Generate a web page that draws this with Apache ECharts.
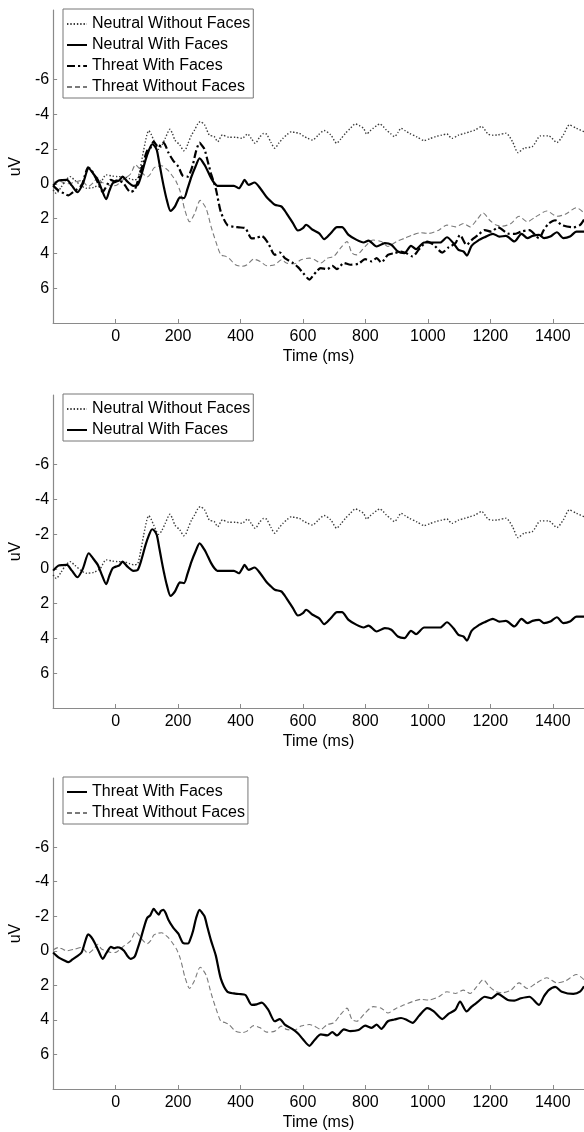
<!DOCTYPE html>
<html>
<head>
<meta charset="utf-8">
<script src="https://cdn.jsdelivr.net/npm/echarts@6/dist/echarts.min.js"></script>
<style>
html,body{margin:0;padding:0;background:#fff;}
#chart{width:584px;height:1132px;}
</style>
</head>
<body>
<div id="chart"></div>
<script>
// ---- Data (time in ms, amplitude in uV) ----
const xTickValues = [0, 200, 400, 600, 800, 1000, 1200, 1400];
const yTickValues = [-6, -4, -2, 0, 2, 4, 6];

const neutralWithoutT = [-200,-190,-175,-160,-146,-130,-110,-93,-70,-50,-30,-10,6,25,45,59,71,80,90,100,106,114,122,130,138,148,159,174,182,190,206,218,225,232,243,253,263,271,285,300,316,327,342,363,384,405,423,435,447,462,474,484,497,510,523,536,550,563,576,589,602,615,631,649,668,689,708,722,736,752,768,781,794,804,815,825,836,846,857,867,880,893,904,914,928,941,965,988,1006,1025,1043,1061,1077,1098,1119,1135,1151,1172,1193,1209,1224,1250,1271,1289,1308,1335,1361,1387,1413,1434,1453,1476,1500];
const neutralWithoutV = [0.35,0.55,0.2,-0.2,-0.42,-0.2,0.1,0.25,0.2,0.0,-0.52,-0.45,-0.42,-0.42,-0.3,-0.23,-0.3,-1.0,-1.95,-2.8,-3.06,-2.85,-2.52,-2.2,-1.99,-2.2,-2.62,-3.14,-2.9,-2.52,-2.24,-1.91,-2.0,-2.33,-2.8,-3.1,-3.45,-3.58,-3.39,-2.81,-2.72,-2.43,-2.81,-2.68,-2.68,-2.62,-2.87,-2.6,-2.33,-2.7,-2.9,-2.85,-2.4,-2.05,-2.35,-2.62,-2.85,-3.0,-2.95,-2.9,-2.75,-2.62,-2.52,-2.81,-3.07,-2.82,-2.34,-2.6,-2.91,-3.2,-3.45,-3.35,-3.2,-2.87,-3.05,-3.2,-3.35,-3.45,-3.3,-3.1,-2.9,-2.72,-2.95,-3.2,-3.05,-2.91,-2.7,-2.49,-2.6,-2.72,-2.8,-2.87,-2.62,-2.8,-2.91,-3.0,-3.1,-3.3,-2.87,-2.8,-2.82,-2.91,-2.43,-1.8,-2.05,-2.15,-2.76,-2.76,-2.38,-2.82,-3.39,-3.2,-3.0];

const neutralWithT = [-200,-183,-170,-156,-140,-122,-105,-86,-72,-57,-45,-30,-20,-9,1,12,22,38,57,71,84,96,106,117,124,132,140,148,156,164,176,190,198,206,219,230,243,256,269,285,296,306,316,326,353,379,395,405,413,426,445,463,484,497,510,531,547,568,584,600,610,631,652,668,689,709,725,746,772,794,810,836,862,883,904,925,946,962,988,1014,1040,1061,1082,1098,1114,1125,1140,1161,1182,1208,1229,1250,1277,1300,1319,1335,1356,1372,1392,1413,1434,1455,1476,1500];
const neutralWithV = [0.1,-0.19,-0.22,-0.23,0.1,0.48,0.0,-0.9,-0.6,-0.23,0.3,0.88,0.4,-0.04,-0.13,-0.2,-0.42,-0.13,0.11,0.06,-0.6,-1.38,-1.9,-2.28,-2.2,-1.95,-1.2,-0.42,0.3,0.92,1.55,1.3,1.0,0.77,0.82,0.3,-0.42,-1.0,-1.47,-1.09,-0.7,-0.33,-0.05,0.11,0.11,0.11,0.25,0.0,-0.23,0.06,-0.08,0.25,0.77,1.0,1.2,1.3,1.68,2.26,2.68,2.54,2.35,2.64,2.84,3.18,2.84,2.49,2.49,2.93,3.22,3.37,3.26,3.6,3.41,3.5,3.89,3.98,3.56,3.75,3.37,3.37,3.37,3.07,3.41,3.79,3.89,4.12,3.56,3.26,3.07,2.87,3.03,2.99,3.31,2.87,3.12,2.99,2.93,3.12,3.03,2.78,3.12,3.03,2.74,2.74];

const threatWithT = [-200,-183,-165,-151,-138,-125,-109,-98,-88,-78,-67,-55,-41,-33,-25,-15,-4,5,12,27,38,48,61,70,80,90,101,111,122,130,138,145,153,160,169,185,201,215,232,240,248,258,269,277,285,295,306,321,337,358,379,395,416,436,452,468,489,510,526,542,568,585,600,621,631,645,657,678,694,709,731,752,778,799,820,836,851,872,893,914,930,951,972,998,1019,1046,1067,1088,1103,1124,1140,1161,1182,1203,1224,1256,1277,1298,1325,1356,1371,1387,1408,1429,1466,1487,1500];
const threatWithV = [0.1,0.38,0.55,0.66,0.5,0.34,0.1,-0.5,-0.95,-0.8,-0.47,0.0,0.47,0.25,0.0,-0.23,-0.15,-0.2,-0.19,0.0,0.3,0.47,0.34,-0.1,-0.66,-1.3,-1.9,-2.05,-2.43,-2.25,-2.09,-2.3,-2.37,-2.2,-1.8,-1.33,-0.99,-0.47,-0.42,-0.7,-1.14,-1.9,-2.37,-2.2,-1.99,-1.3,-0.57,0.28,1.61,2.37,2.47,2.5,2.56,3.13,3.1,3.0,3.42,4.08,3.95,4.27,4.55,4.8,5.12,5.5,5.31,5.0,4.84,4.9,4.71,4.9,4.55,4.65,4.59,4.33,4.46,4.27,4.52,4.08,3.98,3.89,3.98,4.17,3.76,3.32,3.51,3.95,3.64,3.42,2.94,3.51,3.23,2.94,2.66,2.75,2.5,2.85,2.88,2.75,2.66,3.13,2.66,2.28,2.09,2.37,2.5,2.37,2.05];

const threatWithoutT = [-200,-183,-170,-156,-130,-109,-88,-70,-57,-45,-30,-15,1,15,27,48,64,75,90,101,113,122,132,148,160,169,185,195,206,215,222,237,253,271,290,306,321,337,350,363,384,405,421,442,463,484,510,531,547,573,594,621,636,657,678,699,720,741,757,772,799,825,851,872,899,925,951,977,1003,1035,1061,1088,1114,1135,1156,1177,1198,1219,1240,1266,1292,1318,1345,1381,1413,1440,1476,1500];
const threatWithoutV = [-0.05,-0.19,-0.1,0.0,-0.1,-0.19,0.15,-0.1,-0.38,-0.1,0.0,0.1,0.09,-0.1,-0.28,-0.57,-1.1,-0.9,-0.55,-0.4,-0.6,-0.9,-1.0,-1.04,-0.9,-0.76,-0.38,-0.1,0.38,1.0,1.52,2.18,1.71,0.95,1.42,2.47,3.32,4.08,4.15,4.27,4.65,4.74,4.65,4.33,4.46,4.71,4.65,4.36,4.55,4.59,4.36,4.27,4.35,4.55,4.27,4.17,3.7,3.32,3.98,4.08,3.6,3.23,3.32,3.6,3.32,3.13,2.94,2.81,2.85,2.66,2.37,2.47,2.28,2.47,2.09,1.67,2.09,2.37,2.43,2.28,1.86,2.18,1.9,1.56,1.86,1.75,1.37,1.67];

const labelNW = 'Neutral Without Faces';
const labelNF = 'Neutral With Faces';
const labelTF = 'Threat With Faces';
const labelTW = 'Threat Without Faces';

// ---- build ----
function pairs(t, v) { return t.map((x, i) => [x, v[i]]); }
const FONT = '"Liberation Sans", Arial, Helvetica, sans-serif';
const AXIS_GRAY = '#8a8a8a';

const styles = {
  nw: { color: '#3a3a3a', width: 1.4, type: [1.4, 1.9] },
  nf: { color: '#000', width: 2.2, type: 'solid' },
  tfDashDot: { color: '#000', width: 2.2, type: [8, 3, 2.2, 3] },
  tfSolid: { color: '#000', width: 2.2, type: 'solid' },
  tw: { color: '#7a7a7a', width: 1.1, type: [5, 3] }
};

const gridTops = [10, 395, 778];
const grids = gridTops.map(top => ({ left: 44, width: 540, top: top, height: 313 }));

function xAxis(i) {
  return {
    gridIndex: i, type: 'value', min: -200, max: 1500, interval: 200,
    name: 'Time (ms)', nameLocation: 'middle', nameGap: 26,
    nameTextStyle: { color: '#000', fontSize: 16, fontFamily: FONT },
    axisLine: { show: true, onZero: false, lineStyle: { color: AXIS_GRAY, width: 1.2 } },
    axisTick: { show: true, inside: true, length: 4, customValues: xTickValues, lineStyle: { color: AXIS_GRAY } },
    axisLabel: { show: true, customValues: xTickValues, formatter: v => String(v), color: '#000', fontSize: 16, fontFamily: FONT, margin: 6 },
    splitLine: { show: false }
  };
}
function yAxis(i) {
  return {
    gridIndex: i, type: 'value', min: -10, max: 8, interval: 2, inverse: true,
    name: 'uV', nameLocation: 'middle', nameGap: 26, nameRotate: 90,
    nameTextStyle: { color: '#000', fontSize: 16, fontFamily: FONT },
    axisLine: { show: true, onZero: false, lineStyle: { color: AXIS_GRAY, width: 1.2 } },
    axisTick: { show: true, inside: true, length: 4, customValues: yTickValues, lineStyle: { color: AXIS_GRAY } },
    axisLabel: { show: true, customValues: yTickValues, formatter: v => String(v), color: '#000', fontSize: 16, fontFamily: FONT, margin: 4 },
    splitLine: { show: false }
  };
}

function line(name, idx, data, ls, z) {
  return {
    name: name, type: 'line', xAxisIndex: idx, yAxisIndex: idx,
    data: data, symbol: 'none', showSymbol: false, smooth: 0.25,
    lineStyle: ls, itemStyle: { color: ls.color }, z: z, silent: true, animation: false
  };
}

const dNW = pairs(neutralWithoutT, neutralWithoutV);
const dNF = pairs(neutralWithT, neutralWithV);
const dTF = pairs(threatWithT, threatWithV);
const dTW = pairs(threatWithoutT, threatWithoutV);

const series = [
  line('1|' + labelNW, 0, dNW, styles.nw, 2),
  line('1|' + labelNF, 0, dNF, styles.nf, 4),
  line('1|' + labelTF, 0, dTF, styles.tfDashDot, 3),
  line('1|' + labelTW, 0, dTW, styles.tw, 1),
  line('2|' + labelNW, 1, dNW, styles.nw, 2),
  line('2|' + labelNF, 1, dNF, styles.nf, 4),
  line('3|' + labelTF, 2, dTF, styles.tfSolid, 4),
  line('3|' + labelTW, 2, dTW, styles.tw, 2)
];

function legend(top, names) {
  return {
    left: 63, top: top, orient: 'vertical',
    data: names, itemWidth: 20, itemHeight: 14, itemGap: 5,
    padding: [7, 3, 3, 3],
    borderColor: '#777', borderWidth: 1, backgroundColor: '#fff',
    selectedMode: false,
    itemStyle: { opacity: 0 },
    formatter: n => n.split('|')[1],
    textStyle: { color: '#000', fontSize: 16, fontFamily: FONT }
  };
}

const option = {
  animation: false,
  backgroundColor: '#fff',
  grid: grids,
  xAxis: [xAxis(0), xAxis(1), xAxis(2)],
  yAxis: [yAxis(0), yAxis(1), yAxis(2)],
  legend: [
    legend(9, ['1|' + labelNW, '1|' + labelNF, '1|' + labelTF, '1|' + labelTW]),
    legend(394, ['2|' + labelNW, '2|' + labelNF]),
    legend(777, ['3|' + labelTF, '3|' + labelTW])
  ],
  series: series
};

const chart = echarts.init(document.getElementById('chart'), null, { renderer: 'canvas' });
chart.setOption(option);
</script>
</body>
</html>
